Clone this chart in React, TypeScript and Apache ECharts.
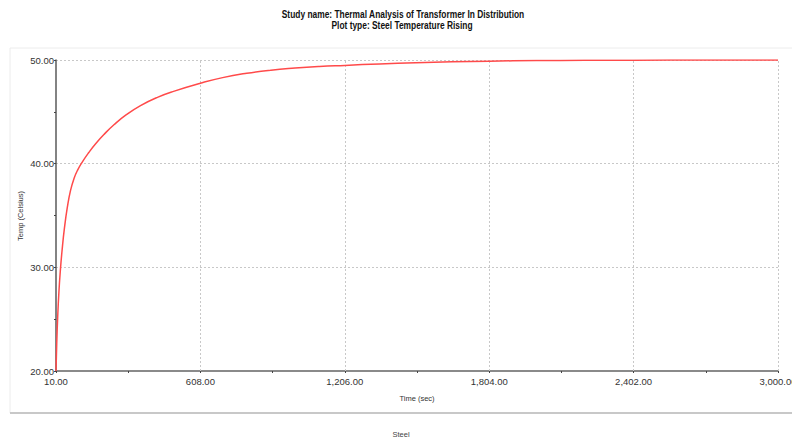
import React, { useEffect, useRef } from "react";
import * as echarts from "echarts";

const titleLines = [
  "Study name: Thermal Analysis of Transformer In Distribution",
  "Plot type: Steel Temperature Rising",
];
const xAxisTitle = "Time (sec)";
const yAxisTitle = "Temp (Celsius)";
const seriesName = "Steel";

const timeSec = [
  10, 13, 17, 22, 28, 35, 45, 57, 70, 85, 100, 120, 145, 175, 210, 250, 300, 360, 430, 500,
  608, 700, 800, 900, 1000, 1100, 1206, 1350, 1500, 1650, 1804, 2000, 2200, 2402, 2700, 3000,
];
const steelTemp = [
  20, 22.6, 25.2, 27.6, 29.7, 31.6, 33.8, 35.8, 37.4, 38.6, 39.4, 40.2, 41.05, 41.95, 42.85, 43.75, 44.7, 45.6, 46.4, 47.0,
  47.76, 48.3, 48.72, 49.02, 49.22, 49.37, 49.48, 49.62, 49.73, 49.82, 49.89, 49.94, 49.97, 49.985, 49.995, 50.0,
];
const xMajorTicks = [10, 608, 1206, 1804, 2402, 3000];
const xAllTicks = [10, 309, 608, 907, 1206, 1505, 1804, 2103, 2402, 2701, 3000];
const xGridLines = [608, 1206, 1804, 2402, 3000];

const FONT = "'Liberation Sans', Arial, sans-serif";

export default function App() {
  const ref = useRef<HTMLDivElement>(null);
  useEffect(() => {
    if (!ref.current) return;
    const chart = echarts.init(ref.current, null, { renderer: "svg" });
    const data = timeSec.map((t, i) => [t, steelTemp[i]]);
    chart.setOption({
      animation: false,
      backgroundColor: "#ffffff",
      textStyle: { fontFamily: FONT },
      graphic: [
        {
          type: "rect",
          z: -10,
          shape: { x: 10, y: 48, width: 800, height: 365 },
          style: { fill: "#ffffff", stroke: "#ececec", lineWidth: 1 },
        },
        {
          type: "line",
          z: -9,
          shape: { x1: 10, y1: 413, x2: 792, y2: 413 },
          style: { stroke: "#c8c8c8", lineWidth: 2 },
        },
        {
          type: "text",
          x: 403,
          y: 10,
          scaleX: 0.84,
          style: {
            text: titleLines[0],
            fontSize: 10,
            fontWeight: "bold",
            fontFamily: FONT,
            fill: "#111",
            textAlign: "center",
          },
        },
        {
          type: "text",
          x: 402,
          y: 21,
          scaleX: 0.84,
          style: {
            text: titleLines[1],
            fontSize: 10,
            fontWeight: "bold",
            fontFamily: FONT,
            fill: "#111",
            textAlign: "center",
          },
        },
        {
          type: "text",
          x: 417,
          y: 394,
          style: { text: xAxisTitle, fontSize: 7.5, fill: "#333", textAlign: "center", fontFamily: FONT },
        },
        {
          type: "text",
          x: 20,
          y: 216,
          rotation: Math.PI / 2,
          style: {
            text: yAxisTitle,
            fontSize: 7.5,
            fill: "#333",
            textAlign: "center",
            textVerticalAlign: "middle",
            fontFamily: FONT,
          },
        },
        {
          type: "text",
          x: 401,
          y: 430,
          style: { text: seriesName, fontSize: 7.5, fill: "#444", textAlign: "center", fontFamily: FONT },
        },
      ],
      grid: {
        left: 56,
        right: 14,
        top: 60,
        bottom: 70,
        containLabel: false,
        outerBoundsMode: "none",
      },
      xAxis: {
        type: "value",
        min: 10,
        max: 3000,
        axisLine: { show: true, lineStyle: { color: "#8a8a8a", width: 2 } },
        axisTick: {
          show: true,
          customValues: xAllTicks,
          length: 2,
          inside: false,
          lineStyle: { color: "#444", width: 1 },
        },
        axisLabel: {
          customValues: xMajorTicks,
          fontSize: 9.5,
          color: "#333",
          margin: 5,
          fontFamily: FONT,
          formatter: (v: number) =>
            v.toLocaleString("en-US", { minimumFractionDigits: 2, maximumFractionDigits: 2 }),
        },
        splitLine: { show: false },
      },
      yAxis: {
        type: "value",
        min: 20,
        max: 50,
        interval: 10,
        axisLine: { show: true, lineStyle: { color: "#5a5a5a", width: 1.5 } },
        axisTick: { show: true, length: 2, lineStyle: { color: "#444" } },
        minorTick: { show: true, splitNumber: 2, length: 2, lineStyle: { color: "#444" } },
        axisLabel: {
          fontSize: 9.5,
          color: "#333",
          margin: 2,
          fontFamily: FONT,
          formatter: (v: number) => v.toFixed(2),
        },
        splitLine: { show: true, lineStyle: { color: "#c8c8c8", type: [2, 2], width: 1 } },
      },
      series: [
        {
          name: seriesName,
          type: "line",
          data,
          showSymbol: false,
          smooth: 0.5,
          lineStyle: { color: "#ff4a4a", width: 1.5 },
          z: 5,
          markLine: {
            silent: true,
            symbol: "none",
            label: { show: false },
            lineStyle: { color: "#c8c8c8", type: [2, 2], width: 1 },
            z: 1,
            data: xGridLines.map((x) => ({ xAxis: x })),
          },
        },
      ],
    });
    return () => chart.dispose();
  }, []);
  return (
    <div
      ref={ref}
      style={{ position: "fixed", left: 0, top: 0, width: 792, height: 441, background: "#fff" }}
    />
  );
}
